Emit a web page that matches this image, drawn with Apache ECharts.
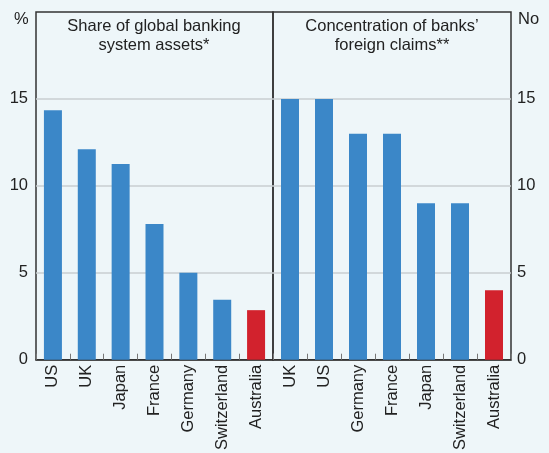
<!DOCTYPE html>
<html>
<head>
<meta charset="utf-8">
<script src="https://cdn.jsdelivr.net/npm/echarts@6/dist/echarts.min.js"></script>
<style>
  html, body { margin: 0; padding: 0; background: #eef6f9; }
  #chart { width: 549px; height: 453px; }
</style>
</head>
<body>
<div id="chart"></div>
<script>
var assetCountries = ['US', 'UK', 'Japan', 'France', 'Germany', 'Switzerland', 'Australia'];
var assetShares = [14.35, 12.1, 11.25, 7.8, 5.0, 3.45, 2.85];

var claimCountries = ['UK', 'US', 'Germany', 'France', 'Japan', 'Switzerland', 'Australia'];
var claimCounts = [15, 15, 13, 13, 9, 9, 4];

var yTicks = [0, 5, 10, 15];

var blue = '#3b87c8';
var red = '#d2222d';
var font = 'Arial, "Liberation Sans", sans-serif';
var fs = 16.5;

function colourBars(names, values) {
    return values.map(function (v, i) {
        return { value: v, itemStyle: { color: names[i] == 'Australia' ? red : blue } };
    });
}

function xAxisFor(idx, names) {
    return {
        type: 'category',
        gridIndex: idx,
        data: names,
        axisLine: { lineStyle: { color: '#333', width: 1.5 } },
        axisTick: { show: true, inside: true, length: 6, lineStyle: { color: '#777' } },
        axisLabel: {
            rotate: 90, interval: 0, margin: 5,
            color: '#222', fontSize: fs, fontFamily: font
        }
    };
}

function yAxisFor(idx, side) {
    return {
        type: 'value',
        gridIndex: idx,
        position: side,
        min: 0, max: 20, interval: 5,
        axisLine: { show: false },
        axisTick: { show: false },
        axisLabel: {
            margin: side == 'left' ? 8 : 6,
            color: '#222', fontSize: fs, fontFamily: font,
            formatter: function (v) { return yTicks.indexOf(v) >= 0 ? String(v) : ''; }
        },
        splitLine: { show: true, showMinLine: false, showMaxLine: false, lineStyle: { color: '#c9ced1', width: 1.5 } }
    };
}

var myChart = echarts.init(document.getElementById('chart'));
var option = {
    backgroundColor: '#eef6f9',
    animation: false,
    textStyle: { fontFamily: font },
    grid: [
        { left: 36, width: 237, top: 12, bottom: 92, show: true, borderColor: '#333', borderWidth: 1.5, backgroundColor: 'transparent' },
        { left: 273, width: 238, top: 12, bottom: 92, show: true, borderColor: '#333', borderWidth: 1.5, backgroundColor: 'transparent' }
    ],
    xAxis: [xAxisFor(0, assetCountries), xAxisFor(1, claimCountries)],
    yAxis: [yAxisFor(0, 'left'), yAxisFor(1, 'right')],
    graphic: [
        { type: 'text', left: 14, top: 11, style: { text: '%', fontSize: fs, fill: '#222', fontFamily: font } },
        { type: 'text', left: 518, top: 11, style: { text: 'No', fontSize: fs, fill: '#222', fontFamily: font } },
        { type: 'text', x: 154, y: 17, style: { text: 'Share of global banking\nsystem assets*', align: 'center', lineHeight: 19, fontSize: fs, fill: '#222', fontFamily: font } },
        { type: 'text', x: 392, y: 17, style: { text: 'Concentration of banks\u2019\nforeign claims**', align: 'center', lineHeight: 19, fontSize: fs, fill: '#222', fontFamily: font } }
    ],
    series: [
        { type: 'bar', xAxisIndex: 0, yAxisIndex: 0, barWidth: 18, data: colourBars(assetCountries, assetShares) },
        { type: 'bar', xAxisIndex: 1, yAxisIndex: 1, barWidth: 18, data: colourBars(claimCountries, claimCounts) }
    ]
};
myChart.setOption(option);
</script>
</body>
</html>
